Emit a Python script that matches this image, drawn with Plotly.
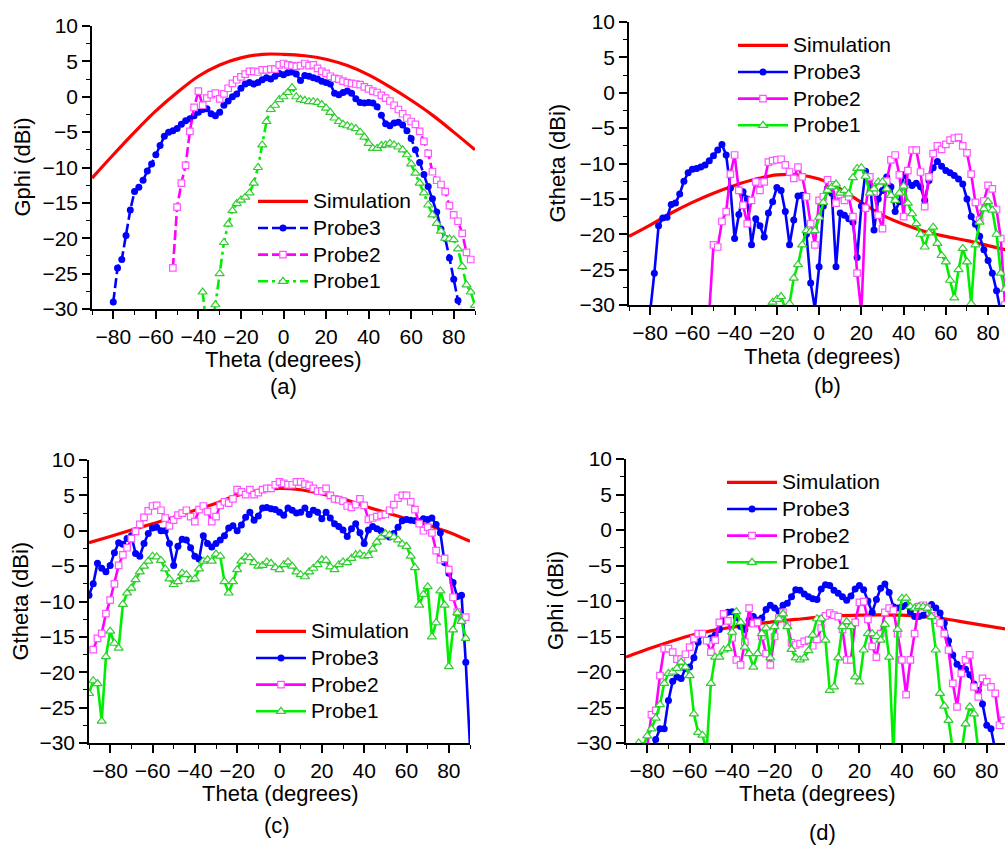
import plotly.graph_objects as go

# ---------------- data: panel (a) Gphi ----------------
A_SIM_THETA = [-90, -80, -70, -60, -50, -40, -30, -20, -10, 0, 10, 20, 30, 40, 50, 60, 70, 80, 90]
A_SIM = [-11.5, -8.2, -5.0, -2.0, 0.6, 2.9, 4.5, 5.5, 6.0, 6.0, 5.8, 5.3, 4.4, 3.1, 1.4, -0.5, -2.6, -5.0, -7.5]

A_P3_THETA = [-80, -78, -76, -74, -72, -70, -68, -66, -64, -62, -60, -58, -56, -54, -52, -50, -48, -46, -44, -42,
              -40, -38, -36, -34, -32, -30, -28, -26, -24, -22, -20, -18, -16, -14, -12, -10, -8, -6, -4, -2,
              0, 2, 4, 6, 8, 10, 12, 14, 16, 18, 20, 22, 24, 26, 28, 30, 32, 34, 36, 38,
              40, 42, 44, 46, 48, 50, 52, 54, 56, 58, 60, 62, 64, 66, 68, 70, 72, 74, 76, 78, 80, 82, 84]
A_P3 = [-29.0, -24.2, -23.0, -19.6, -16.0, -13.4, -12.8, -11.8, -10.5, -9.5, -8.2, -6.9, -5.6, -5.0, -4.8, -4.5, -3.9, -3.4, -3.1, -2.7,
        -2.2, -1.8, -1.7, -2.4, -2.7, -2.2, -1.2, -0.6, 0.0, 0.4, 1.2, 1.8, 2.0, 1.8, 2.0, 2.4, 2.7, 2.5, 2.9, 3.3,
        3.1, 3.4, 3.5, 3.2, 2.3, 3.0, 2.9, 2.7, 2.5, 2.2, 2.0, 1.8, 0.5, 0.3, 0.6, 0.8, 0.5, -0.3, -0.8, -0.9,
        -0.8, -0.9, -1.4, -2.6, -3.8, -4.1, -3.7, -3.6, -4.0, -4.8, -5.9, -7.5, -9.3, -11.0, -12.7, -14.4, -16.3, -18.7, -20.0, -22.8, -25.8, -28.8, -31.0]

A_P2_THETA = [-52, -50, -48, -46, -44, -42, -40, -38, -36, -34, -32, -30, -28, -26, -24, -22, -20, -18, -16, -14,
              -12, -10, -8, -6, -4, -2, 0, 2, 4, 6, 8, 10, 12, 14, 16, 18, 20, 22, 24, 26,
              28, 30, 32, 34, 36, 38, 40, 42, 44, 46, 48, 50, 52, 54, 56, 58, 60, 62, 64, 66,
              68, 70, 72, 74, 76, 78, 80, 82, 84, 86, 88]
A_P2 = [-24.2, -15.6, -12.2, -9.7, -4.9, -1.5, 0.8, -1.2, -0.2, 0.3, 0.5, -0.3, 0.4, 1.2, 1.9, 2.4, 2.8, 3.2, 3.6, 3.6,
        3.5, 3.8, 3.8, 3.9, 3.9, 4.5, 4.7, 4.5, 4.4, 4.3, 4.4, 4.7, 4.4, 4.5, 4.0, 3.6, 3.3, 2.9, 2.6, 2.5,
        2.2, 2.0, 1.9, 1.8, 1.7, 1.4, 1.1, 0.8, 0.6, 0.2, -0.2, -0.6, -1.2, -1.8, -2.4, -3.0, -3.5, -3.9, -4.9, -6.3,
        -8.0, -10.6, -11.8, -12.4, -13.4, -15.4, -16.7, -17.6, -19.3, -22.0, -23.0]

A_P1_THETA = [-38, -36, -34, -32, -30, -28, -26, -24, -22, -20, -18, -16, -14, -12, -10, -8, -6, -4, -2,
              0, 2, 4, 6, 8, 10, 12, 14, 16, 18, 20, 22, 24, 26, 28, 30, 32, 34, 36, 38,
              40, 42, 44, 46, 48, 50, 52, 54, 56, 58, 60, 62, 64, 66, 68, 70, 72, 74, 76, 78,
              80, 82, 84, 86, 88, 90]
A_P1 = [-27.6, -33.0, -33.0, -29.4, -25.0, -20.6, -18.0, -16.1, -15.1, -14.6, -14.2, -13.6, -12.2, -10.0, -6.8, -3.5, -1.8, -1.2, -0.4,
        0.0, 0.6, 1.3, 0.0, -0.4, -0.5, -0.7, -0.7, -0.8, -1.1, -1.6, -2.2, -3.0, -3.5, -3.9, -4.1, -4.3, -4.5, -5.0, -5.7,
        -6.6, -7.3, -7.3, -6.9, -6.8, -6.6, -6.8, -7.1, -7.5, -8.2, -9.5, -10.8, -12.2, -13.6, -15.3, -16.7, -17.9, -19.0, -20.0, -20.1,
        -20.2, -21.5, -24.0, -26.6, -27.6, -29.5]

# ---------------- data: panel (b) Gtheta ----------------
B_SIM_THETA = [-90, -80, -70, -60, -50, -40, -30, -20, -10, 0, 10, 20, 30, 40, 50, 60, 70, 80, 90]
B_SIM = [-20.3, -18.7, -17.0, -15.5, -14.2, -13.1, -12.2, -11.6, -11.6, -12.2, -13.6, -15.5, -17.3, -18.6, -19.6, -20.3, -20.9, -21.6, -22.3]

B_P3_THETA = [-80, -78, -76, -74, -72, -70, -68, -66, -64, -62, -60, -58, -56, -54, -52, -50, -48, -46, -44, -42,
              -40, -38, -36, -34, -32, -30, -28, -26, -24, -22, -20, -18, -16, -14, -12, -10, -8, -6, -4, -2,
              0, 2, 4, 6, 8, 10, 12, 14, 16, 18, 20, 22, 24, 26, 28, 30, 32, 34, 36, 38,
              40, 42, 44, 46, 48, 50, 52, 54, 56, 58, 60, 62, 64, 66, 68, 70, 72, 74, 76, 78,
              80, 82, 84, 86]
B_P3 = [-31.0, -25.5, -18.8, -17.7, -17.6, -15.8, -15.6, -14.3, -12.5, -11.3, -10.8, -10.7, -10.5, -10.2, -9.6, -8.9, -8.1, -7.3, -8.8, -13.5,
        -20.6, -17.2, -14.0, -15.0, -21.5, -17.8, -18.8, -20.4, -17.0, -15.4, -13.4, -13.8, -16.8, -21.5, -18.0, -14.6, -14.5, -20.0, -26.9, -30.5,
        -24.6, -16.0, -13.5, -14.2, -24.6, -17.0, -17.3, -17.8, -18.3, -23.3, -16.0, -11.1, -12.2, -19.4, -15.0, -13.8, -11.9, -13.3, -16.8, -15.4,
        -11.6, -12.6, -13.1, -12.8, -13.3, -15.2, -12.4, -10.6, -9.7, -10.4, -11.0, -11.3, -11.7, -12.2, -12.9, -15.0, -17.5, -18.6, -20.3, -22.2,
        -23.7, -25.5, -28.0, -31.0]

B_P2_THETA = [-52, -50, -48, -46, -44, -42, -40, -38, -36, -34, -32, -30, -28, -26, -24, -22, -20, -18, -16, -14,
              -12, -10, -8, -6, -4, -2, 0, 2, 4, 6, 8, 10, 12, 14, 16, 18, 20, 22, 24, 26,
              28, 30, 32, 34, 36, 38, 40, 42, 44, 46, 48, 50, 52, 54, 56, 58, 60, 62, 64, 66,
              68, 70, 72, 74, 76, 78, 80, 82, 84, 86, 88]
B_P2 = [-31.0, -21.5, -21.8, -18.2, -16.8, -11.5, -8.8, -13.8, -15.9, -18.5, -15.2, -12.6, -13.8, -12.6, -9.8, -9.6, -9.5, -9.4, -10.2, -11.2,
        -12.1, -10.5, -11.9, -14.7, -18.5, -21.5, -15.2, -14.7, -12.3, -13.0, -15.6, -14.4, -15.2, -14.7, -17.5, -25.5, -31.0, -16.3, -11.9, -14.0,
        -17.3, -19.2, -12.5, -9.5, -8.8, -11.6, -17.5, -11.0, -8.1, -8.1, -11.2, -16.1, -11.9, -8.6, -7.5, -8.0, -7.3, -6.7, -6.4, -6.3,
        -7.5, -8.5, -11.5, -15.5, -18.0, -15.3, -13.1, -13.6, -16.5, -20.6, -30.0]

B_P1_THETA = [-24, -22, -20, -18, -16, -14, -12, -10, -8, -6, -4, -2,
              0, 2, 4, 6, 8, 10, 12, 14, 16, 18, 20, 22, 24, 26, 28, 30, 32, 34, 36, 38,
              40, 42, 44, 46, 48, 50, 52, 54, 56, 58, 60, 62, 64, 66, 68, 70, 72, 74, 76, 78,
              80, 82, 84, 86, 88]
B_P1 = [-30.5, -29.6, -29.2, -28.8, -30.5, -29.8, -26.2, -24.3, -21.5, -19.5, -19.6, -19.5,
        -17.6, -15.5, -13.8, -13.3, -12.9, -14.2, -13.8, -14.3, -12.0, -10.7, -10.6, -11.8, -14.2, -13.6, -12.6, -12.6, -13.6, -14.5, -15.2, -14.2,
        -13.2, -15.6, -17.1, -18.5, -20.0, -21.8, -19.8, -19.0, -21.3, -23.0, -23.9, -26.5, -29.0, -25.0, -22.0, -23.9, -29.8, -21.5, -18.3, -16.4,
        -15.4, -16.6, -20.0, -25.5, -27.8]

# ---------------- data: panel (c) Gtheta ----------------
C_SIM_THETA = [-90, -80, -70, -60, -50, -40, -30, -20, -10, 0, 10, 20, 30, 40, 50, 60, 70, 80, 90]
C_SIM = [-1.7, -0.8, 0.1, 1.0, 1.9, 2.9, 3.9, 5.0, 5.7, 6.0, 5.8, 5.2, 4.5, 3.5, 2.6, 1.7, 0.8, -0.2, -1.5]

C_P3_THETA = [-90, -88, -86, -84, -82, -80, -78, -76, -74, -72, -70, -68, -66, -64, -62, -60, -58, -56, -54, -52,
              -50, -48, -46, -44, -42, -40, -38, -36, -34, -32, -30, -28, -26, -24, -22, -20, -18, -16, -14, -12,
              -10, -8, -6, -4, -2, 0, 2, 4, 6, 8, 10, 12, 14, 16, 18, 20, 22, 24, 26, 28,
              30, 32, 34, 36, 38, 40, 42, 44, 46, 48, 50, 52, 54, 56, 58, 60, 62, 64, 66, 68,
              70, 72, 74, 76, 78, 80, 82, 84, 86, 88, 90]
C_P3 = [-9.1, -7.5, -4.6, -5.3, -5.8, -4.9, -3.1, -1.7, -1.9, -1.1, -0.7, -3.2, -3.6, -1.8, -0.4, 0.4, 0.5, 0.0, 0.0, -1.8,
        -4.9, -2.2, -1.2, -1.3, -2.4, -3.6, -4.0, -0.7, -1.8, -2.3, -1.8, -1.3, -0.7, 0.4, 0.7, 0.0, 0.8, 1.9, 2.6, 1.5,
        2.1, 3.2, 3.3, 3.1, 3.0, 2.6, 2.2, 3.2, 2.9, 2.5, 2.6, 3.2, 2.3, 2.9, 2.6, 1.7, 2.6, 1.8, 1.0, 0.6,
        0.1, -0.8, 0.3, 1.0, -0.3, -1.8, 0.1, 0.6, 0.3, 0.0, -0.6, -0.9, -0.4, 0.5, 1.4, 1.6, 1.5, 1.4, 1.3, 1.7,
        1.6, 1.8, 0.9, -0.3, -4.5, -6.0, -7.3, -9.3, -9.1, -18.6, -30.5]

C_P2_THETA = [-88, -86, -84, -82, -80, -78, -76, -74, -72, -70, -68, -66, -64, -62, -60, -58, -56, -54, -52, -50,
              -48, -46, -44, -42, -40, -38, -36, -34, -32, -30, -28, -26, -24, -22, -20, -18, -16, -14, -12, -10,
              -8, -6, -4, -2, 0, 2, 4, 6, 8, 10, 12, 14, 16, 18, 20, 22, 24, 26, 28, 30,
              32, 34, 36, 38, 40, 42, 44, 46, 48, 50, 52, 54, 56, 58, 60, 62, 64, 66, 68, 70,
              72, 74, 76, 78, 80, 82, 84, 86, 88]
C_P2 = [-16.8, -15.2, -14.5, -11.7, -9.8, -7.5, -4.9, -3.4, -2.4, -1.1, -0.1, 0.9, 1.9, 2.8, 3.5, 3.6, 2.9, 1.8, 0.7, 1.5,
        2.2, 2.5, 2.9, 2.0, 1.3, 3.0, 3.5, 2.7, 1.3, 2.0, 3.6, 4.1, 3.9, 4.5, 5.8, 5.5, 5.1, 5.8, 5.1, 5.4,
        5.8, 6.0, 6.0, 6.5, 6.9, 6.7, 6.5, 6.5, 6.9, 6.9, 6.6, 6.4, 6.0, 5.6, 5.6, 6.0, 5.0, 4.5, 4.4, 4.2,
        3.5, 3.3, 3.7, 4.5, 3.6, 1.6, 1.8, 2.0, 2.2, 2.3, 2.9, 3.7, 4.6, 5.0, 5.0, 4.1, 3.0, 1.0, 0.0, 0.5,
        -0.3, -2.8, -4.1, -3.9, -5.5, -9.4, -11.5, -12.6, -12.2]

C_P1_THETA = [-90, -88, -86, -84, -82, -80, -78, -76, -74, -72, -70, -68, -66, -64, -62, -60, -58, -56, -54, -52,
              -50, -48, -46, -44, -42, -40, -38, -36, -34, -32, -30, -28, -26, -24, -22, -20, -18, -16, -14, -12,
              -10, -8, -6, -4, -2, 0, 2, 4, 6, 8, 10, 12, 14, 16, 18, 20, 22, 24, 26, 28,
              30, 32, 34, 36, 38, 40, 42, 44, 46, 48, 50, 52, 54, 56, 58, 60, 62, 64, 66, 68,
              70, 72, 74, 76, 78, 80, 82, 84, 86, 88]
C_P1 = [-23.0, -21.2, -21.6, -26.9, -17.8, -14.2, -15.9, -16.6, -10.4, -8.8, -8.1, -6.9, -5.8, -5.0, -4.3, -3.6, -3.7, -4.2, -5.4, -6.8,
        -7.6, -7.2, -6.0, -6.2, -6.9, -6.8, -5.4, -4.3, -4.1, -4.3, -3.3, -3.6, -7.2, -8.8, -7.2, -5.5, -4.3, -3.7, -3.8, -4.5,
        -5.0, -4.9, -4.4, -4.6, -5.2, -5.5, -4.8, -4.4, -5.0, -5.8, -6.2, -6.5, -5.8, -5.3, -4.8, -4.1, -4.2, -5.1, -5.5, -4.8,
        -4.4, -4.5, -3.9, -3.4, -3.3, -3.6, -3.5, -2.6, -1.6, -0.9, -0.4, -0.6, -0.9, -1.3, -1.9, -2.2, -3.6, -5.2, -10.5, -9.0,
        -7.9, -15.0, -13.0, -8.5, -10.5, -19.2, -14.0, -11.6, -12.8, -15.2]

# ---------------- data: panel (d) Gphi ----------------
D_SIM_THETA = [-90, -80, -70, -60, -50, -40, -30, -20, -10, 0, 10, 20, 30, 40, 50, 60, 70, 80, 90]
D_SIM = [-17.9, -16.8, -15.8, -14.9, -14.2, -13.7, -13.3, -12.9, -12.6, -12.3, -12.1, -12.0, -11.95, -12.0, -12.2, -12.5, -13.0, -13.5, -14.0]

D_P3_THETA = [-78, -76, -74, -72, -70, -68, -66, -64, -62, -60, -58, -56, -54, -52, -50, -48, -46, -44, -42, -40,
              -38, -36, -34, -32, -30, -28, -26, -24, -22, -20, -18, -16, -14, -12, -10, -8, -6, -4, -2,
              0, 2, 4, 6, 8, 10, 12, 14, 16, 18, 20, 22, 24, 26, 28, 30, 32, 34, 36, 38,
              40, 42, 44, 46, 48, 50, 52, 54, 56, 58, 60, 62, 64, 66, 68, 70, 72, 74, 76, 78,
              80, 82, 84]
D_P3 = [-31.0, -29.5, -28.0, -28.0, -24.0, -21.3, -20.7, -20.9, -19.5, -19.3, -18.0, -15.8, -14.6, -15.6, -15.2, -14.8, -14.0, -12.8, -11.6, -11.5,
        -12.3, -13.6, -14.0, -12.7, -12.2, -12.7, -12.4, -11.2, -10.6, -11.0, -11.4, -10.6, -10.3, -9.4, -8.4, -8.5, -9.0, -9.4, -9.7,
        -9.8, -8.3, -7.7, -7.8, -8.5, -8.9, -9.4, -9.9, -9.3, -8.3, -7.8, -8.4, -10.0, -11.6, -9.8, -8.2, -7.6, -8.8, -10.8, -11.0,
        -10.8, -10.6, -11.5, -12.2, -12.2, -12.0, -11.1, -10.5, -11.0, -11.7, -13.1, -15.6, -17.6, -18.9, -19.5, -19.6, -20.4, -21.7, -22.6, -24.5,
        -27.5, -28.0, -31.0]

D_P2_THETA = [-80, -78, -76, -74, -72, -70, -68, -66, -64, -62, -60, -58, -56, -54, -52, -50, -48, -46, -44, -42,
              -40, -38, -36, -34, -32, -30, -28, -26, -24, -22, -20, -18, -16, -14, -12, -10, -8, -6, -4, -2,
              0, 2, 4, 6, 8, 10, 12, 14, 16, 18, 20, 22, 24, 26, 28, 30, 32, 34, 36, 38,
              40, 42, 44, 46, 48, 50, 52, 54, 56, 58, 60, 62, 64, 66, 68, 70, 72, 74, 76, 78,
              80, 82, 84, 86, 88]
D_P2 = [-30.5, -26.0, -25.4, -20.5, -16.7, -16.7, -17.2, -18.2, -18.2, -17.5, -16.5, -15.3, -14.6, -14.6, -15.6, -17.2, -15.5, -13.0, -11.8, -12.8,
        -15.2, -18.3, -19.0, -15.8, -11.0, -13.2, -13.0, -15.0, -17.4, -19.0, -15.0, -12.4, -11.6, -13.4, -15.9, -16.2, -16.0, -15.7, -15.5, -16.3,
        -15.4, -13.8, -12.1, -11.7, -12.0, -12.2, -14.0, -18.3, -18.3, -13.0, -10.2, -10.1, -12.6, -16.4, -17.9, -14.6, -11.6, -11.0, -11.3, -14.6,
        -18.3, -23.2, -18.3, -14.6, -10.8, -10.6, -11.0, -12.1, -12.7, -13.1, -14.6, -16.9, -21.6, -24.9, -20.2, -18.3, -17.6, -22.1, -23.5, -20.9,
        -21.4, -22.1, -23.0, -27.5, -26.8]

D_P1_THETA = [-84, -82, -80, -78, -76, -74, -72, -70, -68, -66, -64, -62, -60, -58, -56, -54, -52, -50, -48, -46,
              -44, -42, -40, -38, -36, -34, -32, -30, -28, -26, -24, -22, -20, -18, -16, -14, -12, -10, -8, -6,
              -4, -2, 0, 2, 4, 6, 8, 10, 12, 14, 16, 18, 20, 22, 24, 26, 28, 30, 32, 34,
              36, 38, 40, 42, 44, 46, 48, 50, 52, 54, 56, 58, 60, 62, 64, 66, 68, 70, 72, 74, 76]
D_P1 = [-30.0, -30.5, -29.0, -28.0, -26.5, -24.6, -21.6, -20.2, -20.0, -19.5, -18.6, -19.3, -20.5, -25.9, -28.5, -28.9, -31.0, -21.6, -17.9, -17.9,
        -16.9, -16.7, -14.4, -11.5, -13.0, -16.5, -17.4, -19.3, -17.4, -14.6, -13.8, -18.0, -13.6, -12.5, -11.8, -13.6, -16.8, -18.0, -18.3, -18.0,
        -17.0, -14.8, -12.5, -12.5, -15.5, -22.6, -22.1, -18.0, -13.6, -12.9, -13.6, -20.7, -21.4, -16.9, -14.6, -14.6, -15.0, -15.5, -13.3, -17.9,
        -31.5, -14.0, -9.6, -9.6, -10.8, -11.0, -10.8, -10.8, -11.0, -12.2, -16.9, -23.0, -24.8, -26.8, -31.0, -33.0, -31.5, -27.3, -24.9, -25.9, -31.0]

PANEL_LABELS = ["(a)", "(b)", "(c)", "(d)"]
Y_TITLES = ["Gphi (dBi)", "Gtheta (dBi)", "Gtheta (dBi)", "Gphi (dBi)"]
X_TITLE = "Theta (degrees)"
SERIES_NAMES = ["Simulation", "Probe3", "Probe2", "Probe1"]

# ---------------- layout geometry (pixels) ----------------
W, H = 1005, 845
FONT = "Liberation Sans, Arial, sans-serif"
LEG_TEXT_PX = 21

def px(x):
    return x / W

def py(y):
    return 1 - y / H

def leg_name(s):
    return f'<span style="font-size:{LEG_TEXT_PX}px">{s}</span>'

panels = [
    dict(x0=92, x1=475, y0=26, y1=309, xr=[-90, 90],
         sim=(A_SIM_THETA, A_SIM), p3=(A_P3_THETA, A_P3), p2=(A_P2_THETA, A_P2), p1=(A_P1_THETA, A_P1),
         dash3="10px,4px", dash2="10px,4px", dash1="10px,4px,3px,4px",
         leg=(253, 183), ytx=22, xtx=283, xty=360, labx=283, laby=386),
    dict(x0=629, x1=1005, y0=22, y1=305, xr=[-90, 88],
         sim=(B_SIM_THETA, B_SIM), p3=(B_P3_THETA, B_P3), p2=(B_P2_THETA, B_P2), p1=(B_P1_THETA, B_P1),
         dash3="solid", dash2="solid", dash1="solid",
         leg=(733, 27), ytx=557, xtx=822, xty=356, labx=827, laby=385),
    dict(x0=89, x1=470, y0=460, y1=743, xr=[-90, 90],
         sim=(C_SIM_THETA, C_SIM), p3=(C_P3_THETA, C_P3), p2=(C_P2_THETA, C_P2), p1=(C_P1_THETA, C_P1),
         dash3="solid", dash2="solid", dash1="solid",
         leg=(251, 613), ytx=20, xtx=280, xty=793, labx=277, laby=825),
    dict(x0=626, x1=1005, y0=459, y1=743, xr=[-90, 88.6],
         sim=(D_SIM_THETA, D_SIM), p3=(D_P3_THETA, D_P3), p2=(D_P2_THETA, D_P2), p1=(D_P1_THETA, D_P1),
         dash3="solid", dash2="solid", dash1="solid",
         leg=(722, 464), ytx=555, xtx=817, xty=793, labx=822, laby=832),
]

fig = go.Figure()
layout = dict(
    width=W, height=H, margin=dict(l=0, r=0, t=0, b=0, autoexpand=False),
    paper_bgcolor="white", plot_bgcolor="white",
    font=dict(family=FONT, size=21, color="black"),
    showlegend=True,
)
annotations = []

for i, p in enumerate(panels):
    n = i + 1
    xa = "xaxis" if n == 1 else f"xaxis{n}"
    ya = "yaxis" if n == 1 else f"yaxis{n}"
    xref = "x" if n == 1 else f"x{n}"
    yref = "y" if n == 1 else f"y{n}"
    leg = "legend" if n == 1 else f"legend{n}"

    common = dict(showline=True, linecolor="black", linewidth=1.5, mirror=False,
                  ticks="outside", ticklen=8, tickwidth=1.5, tickcolor="black",
                  showgrid=False, zeroline=False, automargin=False,
                  tickfont=dict(family=FONT, size=21, color="black"))
    layout[xa] = dict(common, domain=[px(p["x0"]), px(p["x1"])], range=p["xr"], anchor=yref,
                      tickmode="linear", tick0=-80, dtick=20,
                      minor=dict(ticks="outside", ticklen=4, tickwidth=1.2, tickcolor="black", dtick=10, tick0=-90))
    layout[ya] = dict(common, domain=[py(p["y1"]), py(p["y0"])], range=[-30, 10], anchor=xref,
                      tickmode="linear", tick0=-30, dtick=5,
                      minor=dict(ticks="outside", ticklen=4, tickwidth=1.2, tickcolor="black", dtick=2.5, tick0=-30))
    layout[leg] = dict(x=px(p["leg"][0]), y=py(p["leg"][1]), xanchor="left", yanchor="top",
                       bgcolor="rgba(0,0,0,0)", borderwidth=0, itemwidth=50,
                       font=dict(family=FONT, size=18.2, color="black"),
                       tracegroupgap=0)

    sx, sy = p["sim"]
    fig.add_trace(go.Scatter(x=sx, y=sy, mode="lines", name=leg_name(SERIES_NAMES[0]),
                             line=dict(color="#FF0000", width=3.2, shape="spline", smoothing=1.0),
                             xaxis=xref, yaxis=yref, legend=leg))
    t3, v3 = p["p3"]
    fig.add_trace(go.Scatter(x=t3, y=v3, mode="lines+markers", name=leg_name(SERIES_NAMES[1]),
                             line=dict(color="#0000FF", width=2.6, dash=p["dash3"]),
                             marker=dict(symbol="circle", size=7, color="#0000FF"),
                             xaxis=xref, yaxis=yref, legend=leg))
    t2, v2 = p["p2"]
    fig.add_trace(go.Scatter(x=t2, y=v2, mode="lines+markers", name=leg_name(SERIES_NAMES[2]),
                             line=dict(color="#FF00FF", width=2.6, dash=p["dash2"]),
                             marker=dict(symbol="square", size=6.5, color="white",
                                         line=dict(color="#FF55FF", width=1.2)),
                             xaxis=xref, yaxis=yref, legend=leg))
    t1, v1 = p["p1"]
    fig.add_trace(go.Scatter(x=t1, y=v1, mode="lines+markers", name=leg_name(SERIES_NAMES[3]),
                             line=dict(color="#00EE00", width=2.6, dash=p["dash1"]),
                             marker=dict(symbol="triangle-up", size=8, color="white",
                                         line=dict(color="#33CC33", width=1.2)),
                             xaxis=xref, yaxis=yref, legend=leg))

    annotations.append(dict(text=Y_TITLES[i], x=px(p["ytx"]), y=py((p["y0"] + p["y1"]) / 2),
                            xref="paper", yref="paper", showarrow=False, textangle=-90,
                            xanchor="center", yanchor="middle",
                            font=dict(family=FONT, size=22, color="black")))
    annotations.append(dict(text=X_TITLE, x=px(p["xtx"]), y=py(p["xty"]),
                            xref="paper", yref="paper", showarrow=False,
                            xanchor="center", yanchor="middle",
                            font=dict(family=FONT, size=22, color="black")))
    annotations.append(dict(text=PANEL_LABELS[i], x=px(p["labx"]), y=py(p["laby"]),
                            xref="paper", yref="paper", showarrow=False,
                            xanchor="center", yanchor="middle",
                            font=dict(family=FONT, size=22, color="black")))

layout["annotations"] = annotations
fig.update_layout(**layout)
fig.write_html("out.html",
               config={"displayModeBar": False},
               post_script="document.body.style.margin='0';document.body.style.overflow='hidden';")
